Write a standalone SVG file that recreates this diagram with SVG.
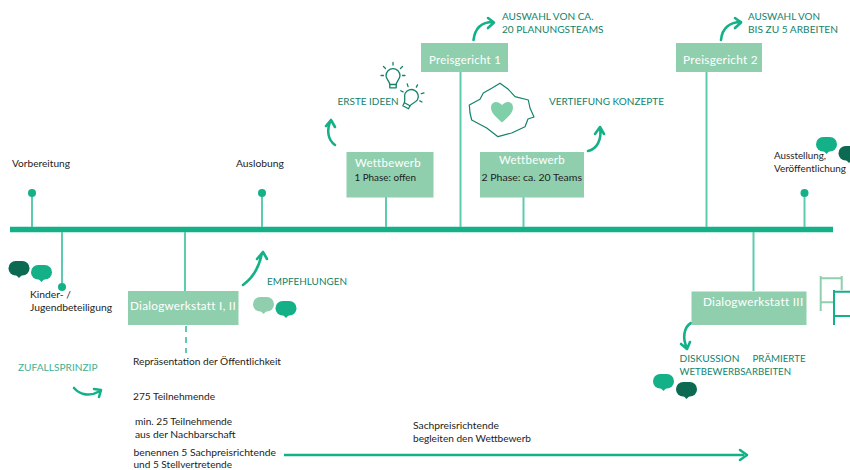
<svg xmlns="http://www.w3.org/2000/svg" width="850" height="470" viewBox="0 0 850 470">
<style>
text{font-family:"Lato","Liberation Sans",sans-serif;lengthAdjust:spacingAndGlyphs}
.box{fill:#90cfae}
.stem{stroke:#5ccbae;stroke-width:2;fill:none}
.main{stroke:#14b189;fill:none}
.dot{fill:#14b189}
.arrow{stroke:#14b189;stroke-width:2.600;fill:none;stroke-linecap:round;stroke-linejoin:round}
.t{font-size:10.300px;fill:#1d1d1b}
.h{font-size:11.800px;fill:#fff;letter-spacing:.3px}
.g{font-size:10.200px;fill:#12836a}
.z{font-size:10.200px;fill:#3fb295}
.b1{fill:#14b189}.b2{fill:#0c6a53}.b3{fill:#90cfae}
.o{fill:none;stroke-linejoin:round;stroke-linecap:round}
</style>
<defs>
<g id="bub"><rect x="-10.500" y="-7.500" width="21" height="14.500" rx="7.200"/><path d="M-4.500 5L0 9.500 4.500 5z"/></g>
<g id="bulb" class="o"><path d="M-3.200 6C-3.200 3.500-7 0-7-2.800a7 7 0 0 1 14 0C7 0 3.200 3.500 3.200 6z"/><path d="M-3.200 9.300h6.400M-3.200 6v3.300M3.200 6v3.300"/><path d="M0-13.500v-2.500M-7.500-10l-2-2M7.500-10l2-2M-9.500-3h-2.500M9.500-3h2.500"/></g>
</defs>

<g id="connectors">
<path class="main" stroke-width="5.500" d="M10 229.500H833"/>
<path class="stem" d="M32 193V227M262 193V227M386 197V227M460.500 71V227M523.500 197V227M706.500 72V227M804.500 193V227M62 232V287M185 232V291M753.500 232V291"/>
<path class="stem" stroke-dasharray="6 5" d="M186 326V353"/>
<circle class="dot" cx="32" cy="193" r="4"/>
<circle class="dot" cx="262" cy="193" r="4"/>
<circle class="dot" cx="804.500" cy="193" r="4"/>
<circle class="dot" cx="62" cy="287" r="4"/>
<path d="M284 455H744" stroke="#14b189" stroke-width="2.600" fill="none"/>
<path class="arrow" d="M740 450L747 455 740 460"/>
<path class="arrow" d="M473.500 40C475 28 482 22 493 22M488 18L494 22.500 488 28"/>
<path class="arrow" d="M721 40C722 28 730 22 741 22M735 18L741 22.500 735 28"/>
<path class="arrow" d="M335 145C328 140 326 130 331 120M326 126L331 120 335 127"/>
<path class="arrow" d="M588 151C597 149 602 140 600 127M595 134L600 127 604 134"/>
<path class="arrow" d="M243 285C253 278 259 268 262 253M257 259L263 252 267 259"/>
<path class="arrow" d="M74 388C80 395 90 397 100 391M94 389L101 390 99 397"/>
<path class="arrow" d="M691 323C684 327 682 338 687 348M681 344L687 349 690 342"/>
</g>

<g id="n-vorbereitung"><text class="t" x="12" y="167" textLength="58" lengthAdjust="spacingAndGlyphs">Vorbereitung</text></g>
<g id="n-auslobung"><text class="t" x="236" y="167">Auslobung</text></g>
<g id="n-ausstellung"><use href="#bub" class="b1" x="826.500" y="144.500"/><use href="#bub" class="b2" x="849" y="153.500"/><text class="t" x="774" y="159" textLength="52" lengthAdjust="spacingAndGlyphs">Ausstellung,</text><text class="t" x="774" y="172" textLength="72" lengthAdjust="spacingAndGlyphs">Veröffentlichung</text></g>
<g id="n-kinder"><use href="#bub" class="b2" x="19" y="268.500"/><use href="#bub" class="b1" x="41.500" y="272.500"/><text class="t" x="30" y="298">Kinder- /</text><text class="t" x="30" y="311">Jugendbeteiligung</text></g>

<g id="n-wettbewerb1"><rect class="box" x="346.500" y="152" width="87" height="45.500"/><text class="h" x="355" y="166.500" textLength="66" lengthAdjust="spacingAndGlyphs">Wettbewerb</text><text class="t" x="354.500" y="180.500" textLength="61.500" lengthAdjust="spacingAndGlyphs">1 Phase: offen</text></g>
<g id="n-wettbewerb2"><rect class="box" x="480" y="152" width="104" height="45.500"/><text class="h" x="499" y="164" textLength="66" lengthAdjust="spacingAndGlyphs">Wettbewerb</text><text class="t" x="481.500" y="180.500" textLength="100.500" lengthAdjust="spacingAndGlyphs">2 Phase: ca. 20 Teams</text></g>
<g id="n-preisgericht1"><rect class="box" x="421" y="43" width="87" height="29"/><text class="h" x="429" y="64" textLength="72" lengthAdjust="spacingAndGlyphs">Preisgericht 1</text></g>
<g id="n-preisgericht2"><rect class="box" x="676" y="43" width="86" height="29"/><text class="h" x="683" y="64" textLength="75" lengthAdjust="spacingAndGlyphs">Preisgericht 2</text></g>
<g id="n-dialog12"><rect class="box" x="128" y="291" width="110.500" height="34"/><text class="h" x="130" y="310" textLength="106" lengthAdjust="spacingAndGlyphs">Dialogwerkstatt I, II</text></g>
<g id="n-dialog3"><rect class="box" x="691.500" y="291.500" width="115" height="33.500"/><text class="h" x="703" y="306" textLength="100.500" lengthAdjust="spacingAndGlyphs">Dialogwerkstatt III</text></g>

<g id="n-auswahl1"><text class="g" x="502" y="20" textLength="91.500" lengthAdjust="spacingAndGlyphs">AUSWAHL VON CA.</text><text class="g" x="502" y="33" textLength="101.500" lengthAdjust="spacingAndGlyphs">20 PLANUNGSTEAMS</text></g>
<g id="n-auswahl2"><text class="g" x="748" y="20" textLength="72" lengthAdjust="spacingAndGlyphs">AUSWAHL VON</text><text class="g" x="748" y="33" textLength="90" lengthAdjust="spacingAndGlyphs">BIS ZU 5 ARBEITEN</text></g>
<g id="n-ideen"><text class="g" x="337.500" y="105" textLength="61" lengthAdjust="spacingAndGlyphs">ERSTE IDEEN</text>
<use href="#bulb" x="393" y="78.500" stroke="#12836a" stroke-width="1.300" fill="none"/>
<use href="#bulb" transform="translate(410 99) rotate(28)" stroke="#12836a" stroke-width="1.300" fill="none"/></g>
<g id="n-vertiefung"><text class="g" x="549" y="105" textLength="115" lengthAdjust="spacingAndGlyphs">VERTIEFUNG KONZEPTE</text>
<path d="M469.300 105L480 99.300 483.300 93 491.700 88.300 500 83.300 508.300 89.300 515 96.700 528.300 100 530 108 534 117 528 119 525 126.700 511.700 133 498 136.700 486.700 128 471.700 120 470 113Z" fill="none" stroke="#12836a" stroke-width="1.200" stroke-linejoin="round"/>
<path d="M502 122.500C496 117 491 113 491 107.500 491 102 497 99.500 502 105 507 99.500 513 102 513 107.500 513 113 508 117 502 122.500Z" fill="#7fcfa9"/></g>
<g id="n-empfehlungen"><text class="g" x="267" y="285" textLength="80" lengthAdjust="spacingAndGlyphs">EMPFEHLUNGEN</text><use href="#bub" class="b3" x="263.500" y="304.500"/><use href="#bub" class="b1" x="286" y="308.500"/></g>
<g id="n-zufall"><text class="z" x="18" y="371" textLength="79.500" lengthAdjust="spacingAndGlyphs">ZUFALLSPRINZIP</text></g>
<g id="n-texte">
<text class="t" x="133" y="365" textLength="148" lengthAdjust="spacingAndGlyphs">Repräsentation der Öffentlichkeit</text>
<text class="t" x="133" y="400" textLength="82" lengthAdjust="spacingAndGlyphs">275 Teilnehmende</text>
<text class="t" x="135" y="425" textLength="97" lengthAdjust="spacingAndGlyphs">min. 25 Teilnehmende</text>
<text class="t" x="135" y="438">aus der Nachbarschaft</text>
<text class="t" x="133.500" y="456" textLength="142.500" lengthAdjust="spacingAndGlyphs">benennen 5 Sachpreisrichtende</text>
<text class="t" x="133.500" y="467.500" textLength="98.500" lengthAdjust="spacingAndGlyphs">und 5 Stellvertretende</text>
<text class="t" x="413" y="429">Sachpreisrichtende</text>
<text class="t" x="413" y="442" textLength="118" lengthAdjust="spacingAndGlyphs">begleiten den Wettbewerb</text>
</g>
<g id="n-diskussion"><text class="g" x="679.500" y="362" textLength="60" lengthAdjust="spacingAndGlyphs">DISKUSSION</text><text class="g" x="752.500" y="362" textLength="53" lengthAdjust="spacingAndGlyphs">PRÄMIERTE</text><text class="g" x="679.500" y="375" textLength="111.500" lengthAdjust="spacingAndGlyphs">WETBEWERBSARBEITEN</text><use href="#bub" class="b1" x="663.500" y="381.500"/><use href="#bub" class="b2" x="686.500" y="389.500"/></g>
<g id="n-gestell" fill="none" stroke-width="2">
<path stroke="#90cfae" d="M820.700 276V311M841.700 276V290M821 278.300H842M821 302.300H833"/>
<path stroke="#14b189" d="M834 290V325M834 291.700H850M834 316H850"/>
</g>
</svg>
